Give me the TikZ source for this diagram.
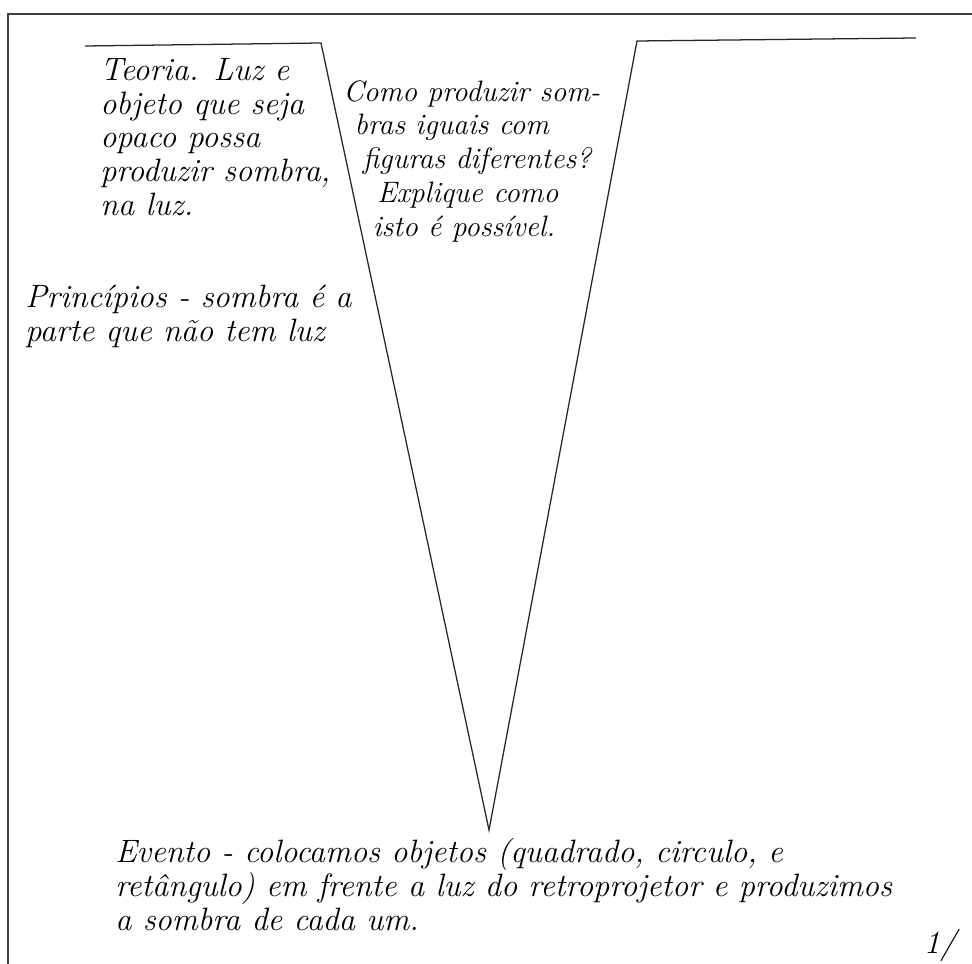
\documentclass[tikz,border=0pt]{standalone}
\begin{document}
\begin{tikzpicture}[
        x=0.025cm, y=-0.025cm,
        hand/.style={
            font=\fontsize{23}{24}\selectfont\itshape,
            align=left,
            inner sep=0pt,
            anchor=north west
        },
        vline/.style={
            draw=black!85,
            line width=0.9pt
        },
        frame/.style={
            draw=black!75,
            line width=1.6pt
        }
    ]

    \useasboundingbox (0,0) rectangle (972,964);
    \draw[frame] (8,964) -- (8,14) -- (972,14);

    % the V
    \coordinate (armleft) at (85,46);
    \coordinate (leftcorner) at (321,43);
    \coordinate (tip) at (489,830);
    \coordinate (rightcorner) at (637,41);
    \coordinate (armright) at (916,38);
    \draw[vline] (armleft) -- (leftcorner) -- (tip) -- (rightcorner) -- (armright);

    \node[hand] (teoria) at (100,58)
    {Teoria. Luz e\\
     objeto que seja\\
     opaco possa\\
     produzir sombra,\\
     na luz.};

    \node[hand] (principios) at (25,285)
    {Princípios - sombra é a\\
     parte que não tem luz};

    \node[hand, font=\fontsize{21}{24}\selectfont\itshape] (questao) at (343,80)
    {Como produzir som-\\
     \hspace*{8pt}bras iguais com\\
     \hspace*{14pt}figuras diferentes?\\
     \hspace*{24pt}Explique como\\
     \hspace*{21pt}isto é possível.};

    \node[hand] (evento) at (115,838)
    {Evento - colocamos objetos (quadrado, circulo, e\\
     retângulo) em frente a luz do retroprojetor e produzimos\\
     a sombra de cada um.};

    \node[hand, anchor=center] (pagina) at (940,945) {1/};

\end{tikzpicture}
\end{document}
